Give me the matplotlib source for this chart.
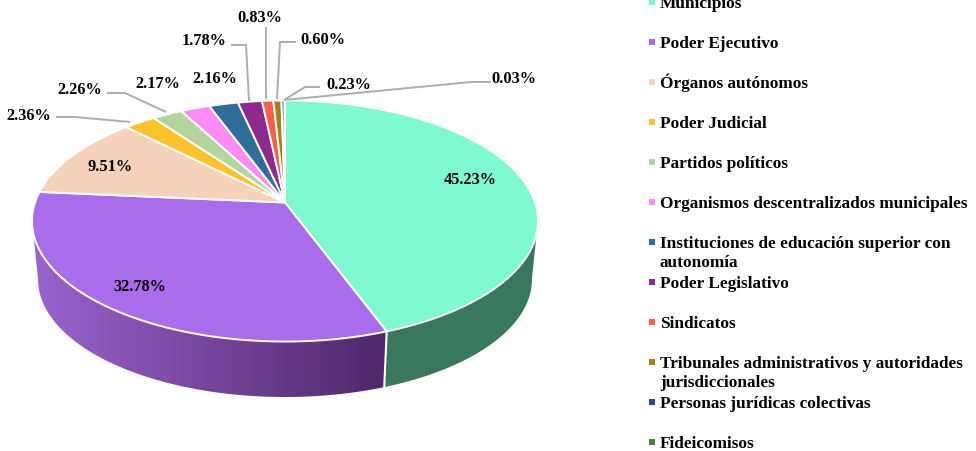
"""Perspective 3D pie with side wall, leader lines and a hand-placed legend."""
import numpy as np
import matplotlib.pyplot as plt
from matplotlib.patches import Polygon

plt.rcParams["font.family"] = ["Liberation Serif", "DejaVu Serif"]

categories = ["Municipios", "Poder Ejecutivo", "Órganos autónomos", "Poder Judicial",
              "Partidos políticos", "Organismos descentralizados municipales",
              "Instituciones de educación superior con\nautonomía", "Poder Legislativo",
              "Sindicatos", "Tribunales administrativos y autoridades\njurisdiccionales",
              "Personas jurídicas colectivas", "Fideicomisos"]
values = [45.23, 32.78, 9.51, 2.36, 2.26, 2.17, 2.16, 1.78, 0.83, 0.60, 0.23, 0.03]
colors = ["#7FF9D2", "#A96CEB", "#F6D2BA", "#FBC22B", "#B5D5A0", "#FB8CF5",
          "#2F6E9C", "#8C2A8E", "#FF5D47", "#A8801A", "#2B4F80", "#4F7F3F"]

# label centres in pixels, same order as values
label_x = [470, 140, 110, 29, 80, 158, 215, 204, 260, 323, 349, 514]
label_y = [180, 287, 167, 116, 90, 84, 79, 41, 18, 40, 85, 79]

leaders = [
    [(56, 118), (75, 118), (130, 123)],
    [(107, 94), (125, 94), (166, 113)],
    [(231, 46), (246, 46), (249, 102)],
    [(266, 28), (266, 100)],
    [(296, 43), (280, 43), (277, 100)],
    [(320, 88), (305, 88), (284, 101)],
    [(491, 83), (471, 83), (284, 101)],
]
legend_y = [3, 43, 83, 123, 163, 203, 243, 283, 323, 363, 403, 443]

GREY = "#ADADAD"
WALL_GREEN = "#39775F"
K = 0.1535  # perspective strength
CY = 203.5
LINE_PX = 19  # legend line height for the wrapped entries


def warp(deg):
    # the original renderer pulls the lower slices back a few degrees
    return np.interp(deg, [0, 162.8, 280.8, 315, 360], [0, 159.5, 275, 315, 360])


def project(deg, cy=CY, a=117.7, b=250.0):
    t = np.radians(warp(deg))
    u, v = np.sin(t), np.cos(t)
    w = 1 + K * v
    return 285 + b * u / w, cy - a * v / w


def bottom(deg):
    return project(deg, cy=262.4, a=114.8, b=244.0)


def wall_outline(t):
    tx, ty = project(t)
    bx, by = bottom(t)
    return np.r_[np.c_[tx, ty], np.c_[bx, by][::-1]]


fig = plt.figure(figsize=(9.76, 4.52), dpi=100)
ax = fig.add_axes([0, 0, 1, 1])

edges = np.concatenate([[0], np.cumsum(values) / np.sum(values) * 360])

# side wall: stop each arc at the widest point so the silhouette stays straight
t = np.linspace(60, edges[1], 120)
t = t[np.argmax(bottom(t)[0]):]
ax.add_patch(Polygon(wall_outline(t), fc=WALL_GREEN, ec="none", zorder=1))

t = np.linspace(edges[1], edges[2], 160)
t = t[:np.argmin(bottom(t)[0]) + 1]
wall = Polygon(wall_outline(t), fc="none", ec="none", zorder=1)
ax.add_patch(wall)
start, end = np.array([0x9B, 0x64, 0xD0]) / 255, np.array([0x4E, 0x28, 0x6A]) / 255
f = np.linspace(0, 1, 256)[None, :, None]
grad = start[None, None, :] * (1 - f) + end[None, None, :] * f
img = ax.imshow(grad, extent=(30, 386, 400, 200), aspect="auto", zorder=1)
img.set_clip_path(wall)

ax.set_xlim(0, 976)
ax.set_ylim(452, 0)
ax.axis("off")

# wall divider between green and purple
px, py = project(edges[1])
qx, qy = bottom(edges[1])
ax.plot([px, qx], [py, qy], color="white", lw=1.5, zorder=2)

# top face
for i, val in enumerate(values):
    t = np.linspace(edges[i], edges[i + 1], max(int(val * 4), 3))
    x, y = project(t)
    pts = np.r_[[[285, CY]], np.c_[x, y]]
    ax.add_patch(Polygon(pts, fc=colors[i], ec="white", lw=1.4, joinstyle="round", zorder=3))

for line in leaders:
    xs, ys = zip(*line)
    ax.plot(xs, ys, color=GREY, lw=1.4, zorder=4, solid_capstyle="butt")

for val, x, y in zip(values, label_x, label_y):
    ax.text(x, y, f"{val:.2f}%", ha="center", va="center", fontsize=11.8,
            fontweight="bold", color="black", zorder=5)

# legend, baseline alignment lands on the last line of a wrapped entry
for name, col, y in zip(categories, colors, legend_y):
    ax.scatter([651.5], [y], marker="s", s=18, color=col, linewidths=0, zorder=5)
    ax.text(660, y + 5.5 + LINE_PX * name.count("\n"), name, ha="left", va="baseline",
            fontsize=12.4, fontweight="bold", color="black", linespacing=1.25, zorder=5)

fig.savefig("out.png", dpi=100)
